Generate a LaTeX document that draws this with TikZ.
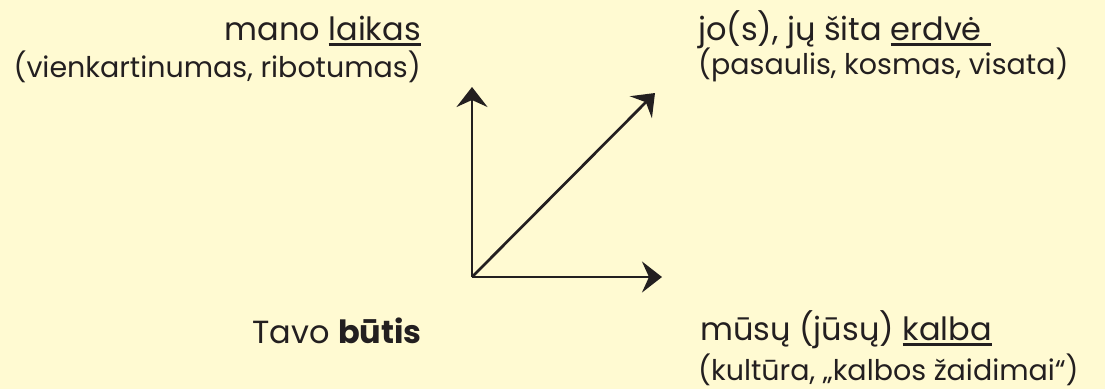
\documentclass[tikz,border=0pt]{standalone}
\usepackage{fontspec}
\setmainfont{Poppins}
\usetikzlibrary{arrows.meta}
\definecolor{bg}{HTML}{FFFAD2}
\definecolor{ink}{HTML}{231F20}
\newcommand\ulword[2][0pt]{\setbox0\hbox{#2}\rlap{\raisebox{-6pt}{\rule{\dimexpr\wd0+#1\relax}{2.8pt}}}\box0}
\tikzset{
  x=1pt, y=-1pt,
  maintext/.style={inner sep=0pt, text=ink, font=\fontsize{32}{36}\selectfont},
  subtext/.style={inner sep=0pt, text=ink, font=\fontsize{28.5}{32}\selectfont},
  axis/.style={draw=ink, line width=2.7pt, -{Stealth[length=20pt, width=31pt, inset=7pt]}},
}
\begin{document}
\begin{tikzpicture}
\fill[bg] (0,0) rectangle (1105,389);
\useasboundingbox (0,0) rectangle (1105,389);
\coordinate (O) at (472,277);
\coordinate (T) at (472,87);
\coordinate (D) at (655,93);
\coordinate (R) at (662,277);
\draw[axis] (O) -- (T);
\draw[axis] (O) -- (D);
\draw[axis] (O) -- (R);
\node[maintext, anchor=base east] (tl1) at (421,40) {mano \ulword{laikas}};
\node[subtext, anchor=base east] (tl2) at (421,77) {(vienkartinumas, ribotumas)};
\node[maintext, anchor=base west] (tr1) at (698,40) {jo(s), jų šita \ulword[9pt]{erdvė}};
\node[subtext, anchor=base west] (tr2) at (698,74) {(pasaulis, kosmas, visata)};
\node[maintext, anchor=base east] (bl1) at (422,343) {Tavo \textbf{būtis}};
\node[maintext, anchor=base west] (br1) at (700,340) {mūsų (jūsų) \ulword{kalba}};
\node[subtext, anchor=base west] (br2) at (698,380) {(kultūra, „kalbos žaidimai“)};
\end{tikzpicture}
\end{document}
